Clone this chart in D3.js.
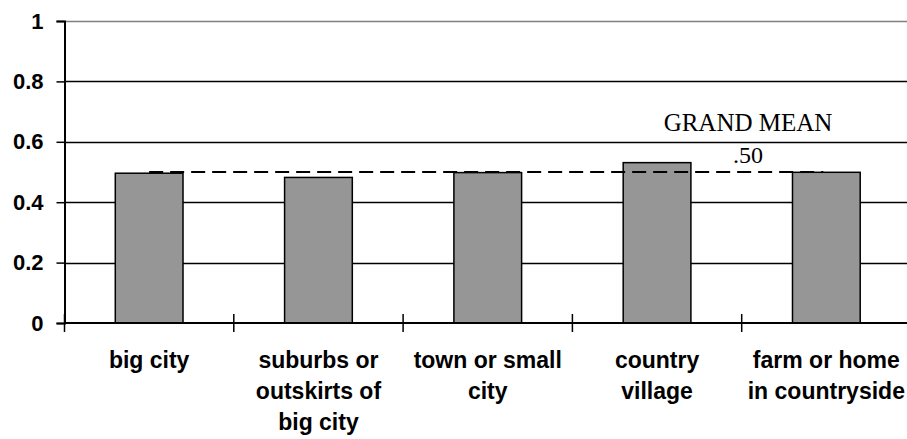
<!DOCTYPE html>
<html>
<head>
<meta charset="utf-8">
<script src="https://cdn.jsdelivr.net/npm/d3@7"></script>
<style>
  body { margin: 0; background: #fff; }
  svg { display: block; }
</style>
</head>
<body>
<div id="chart"></div>
<script>
// data
const categories = ['big city', 'suburbs or outskirts of big city', 'town or small city', 'country village', 'farm or home in countryside'];
const labelLines = [['big city'], ['suburbs or', 'outskirts of', 'big city'], ['town or small', 'city'], ['country', 'village'], ['farm or home', 'in countryside']];
const values = [0.496, 0.482, 0.498, 0.531, 0.499];
const yTicks = [0, 0.2, 0.4, 0.6, 0.8, 1];
const grandMean = 0.50;
const meanLabel = '.50';
const meanTitle = 'GRAND MEAN';

const w = 907, h = 439;
const padLeft = 64.5, padTop = 21, baseY = 323;
const step = 169.3;

const svg = d3.select('#chart').append('svg')
    .attr('width', w)
    .attr('height', h);

const xScale = d3.scaleBand()
    .domain(categories)
    .range([padLeft, padLeft + step * categories.length])
    .paddingInner(0.6)
    .paddingOuter(0.3);

const yScale = d3.scaleLinear()
    .domain([0, 1])
    .range([baseY, padTop]);

// gridlines
svg.append('g')
    .selectAll('line')
    .data(yTicks.filter(d => d > 0))
    .enter()
    .append('line')
    .attr('x1', padLeft)
    .attr('x2', w)
    .attr('y1', d => Math.round(yScale(d)) + 0.5)
    .attr('y2', d => Math.round(yScale(d)) + 0.5)
    .attr('stroke', d => d === 1 ? '#808080' : '#000')
    .attr('stroke-width', 1.3);

// bars
svg.append('g')
    .selectAll('rect')
    .data(values)
    .enter()
    .append('rect')
    .attr('x', (d, i) => xScale(categories[i]))
    .attr('y', d => yScale(d))
    .attr('width', xScale.bandwidth())
    .attr('height', d => yScale(0) - yScale(d))
    .attr('fill', '#969696')
    .attr('stroke', '#000')
    .attr('stroke-width', 1.5);

// y axis
const yAxis = d3.axisLeft(yScale)
    .tickValues(yTicks)
    .tickFormat(d => d === 0 || d === 1 ? d3.format('d')(d) : d3.format('.1f')(d))
    .tickSize(8)
    .tickPadding(13);
const yg = svg.append('g')
    .attr('transform', `translate(${padLeft},0)`)
    .call(yAxis);
yg.select('.domain').attr('stroke', '#000').attr('stroke-width', 2);
yg.selectAll('.tick line').attr('stroke-width', 1.5);
yg.selectAll('.tick text')
    .attr('font-family', 'Liberation Sans, Arial, sans-serif')
    .attr('font-weight', 'bold')
    .attr('font-size', 22)
    .attr('fill', '#000');

// x axis with ticks at band boundaries
const bounds = categories.map(c => xScale(c) - xScale.step() * xScale.paddingOuter());
svg.append('line')
    .attr('x1', padLeft)
    .attr('x2', w)
    .attr('y1', baseY)
    .attr('y2', baseY)
    .attr('stroke', '#000')
    .attr('stroke-width', 2);
svg.append('g')
    .selectAll('line')
    .data(bounds)
    .enter()
    .append('line')
    .attr('x1', d => d)
    .attr('x2', d => d)
    .attr('y1', baseY - 9)
    .attr('y2', baseY + 9)
    .attr('stroke', '#000')
    .attr('stroke-width', 1.5);

// category labels
const lab = svg.append('g')
    .selectAll('text')
    .data(categories)
    .enter()
    .append('text')
    .attr('x', d => xScale(d) + xScale.bandwidth() / 2)
    .attr('y', 368)
    .attr('text-anchor', 'middle')
    .attr('font-family', 'Liberation Sans, Arial, sans-serif')
    .attr('font-weight', 'bold')
    .attr('font-size', 23)
    .attr('fill', '#000');
lab.each(function(d, i) {
    d3.select(this).selectAll('tspan')
        .data(labelLines[i])
        .enter()
        .append('tspan')
        .attr('x', xScale(d) + xScale.bandwidth() / 2)
        .attr('dy', (t, j) => j === 0 ? 0 : 31)
        .text(t => t);
});

// grand mean line
const first = categories[0], last = categories[categories.length - 1];
svg.append('line')
    .attr('x1', xScale(first) + xScale.bandwidth() / 2)
    .attr('x2', xScale(last) + xScale.bandwidth() / 2 - 3)
    .attr('y1', yScale(grandMean))
    .attr('y2', yScale(grandMean))
    .attr('stroke', '#000')
    .attr('stroke-width', 2)
    .attr('stroke-dasharray', '14,7');

svg.append('text')
    .attr('x', 748)
    .attr('y', 131)
    .attr('text-anchor', 'middle')
    .attr('font-family', 'Liberation Serif, Times New Roman, serif')
    .attr('font-size', 25)
    .attr('fill', '#000')
    .text(meanTitle);
svg.append('text')
    .attr('x', 748)
    .attr('y', 163)
    .attr('text-anchor', 'middle')
    .attr('font-family', 'Liberation Serif, Times New Roman, serif')
    .attr('font-size', 24)
    .attr('fill', '#000')
    .text(meanLabel);
</script>
</body>
</html>
